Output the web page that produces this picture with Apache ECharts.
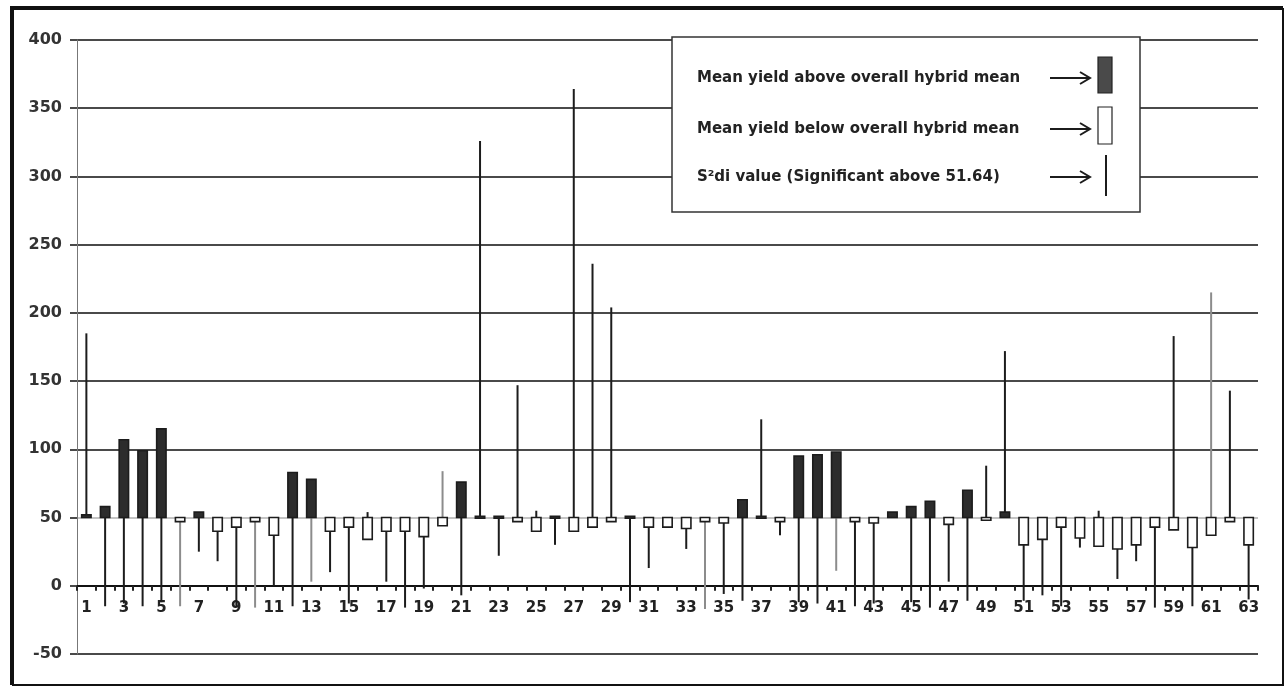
<!DOCTYPE html>
<html>
<head>
<meta charset="utf-8">
<script src="https://cdn.jsdelivr.net/npm/echarts@6/dist/echarts.min.js"></script>
<style>
  html, body { margin: 0; padding: 0; background: #fff; }
  #chart { width: 1285px; height: 687px; }
</style>
</head>
<body>
<div id="chart"></div>
<script>
// Hybrid numbers along the x axis
const hybrids = ['1','2','3','4','5','6','7','8','9','10','11','12','13','14','15','16','17','18','19','20',
  '21','22','23','24','25','26','27','28','29','30','31','32','33','34','35','36','37','38','39','40',
  '41','42','43','44','45','46','47','48','49','50','51','52','53','54','55','56','57','58','59','60',
  '61','62','63'];

// Mean yield of each hybrid
const meanYield = [52, 58, 107, 99, 115, 47, 54, 40, 43, 47, 37, 83, 78, 40, 43, 34, 40, 40, 36, 44,
  76, 51, 51, 47, 40, 51, 40, 43, 47, 51, 43, 43, 42, 47, 46, 63, 51, 47, 95, 96,
  98, 47, 46, 54, 58, 62, 45, 70, 48, 54, 30, 34, 43, 35, 29, 27, 30, 43, 41, 28,
  37, 47, 30];

// Deviation from regression (S²di) of each hybrid
const s2diValue = [185, -15, -13, -15, -12, -15, 25, 18, -15, -16, 0, -15, 3, 10, -13, 54, 3, -16, -2, 84,
  -7, 326, 22, 147, 55, 30, 364, 236, 204, -12, 13, 46, 27, -17, -6, -11, 122, 37, -12, -13,
  11, -15, -13, 52, -12, -16, 3, -11, 88, 172, -11, -7, -15, 28, 55, 5, 18, -16, 183, -15,
  215, 143, -10];

// Overall hybrid mean: the level the yield boxes start from
const hybridMean = 50;

// Value axis range and step
const yMin = -50, yMax = 400, yStep = 50;

// Hybrids whose S²di stem is printed in a lighter grey
const lightStems = [6, 10, 13, 20, 34, 41, 61];

const FONT = 'DejaVu Sans';
const INK = '#222';

const GRID = { left: 77, right: 27, top: 40, bottom: 33 };
const PLOT_H = 687 - GRID.top - GRID.bottom;
// distance from the plot bottom up to the zero line, so the hybrid numbers sit under it
const zeroLift = PLOT_H * (0 - yMin) / (yMax - yMin);

const chart = echarts.init(document.getElementById('chart'), null, { renderer: 'canvas' });

function renderStockMark(params, api) {
  const idx = api.value(0);
  const yld = api.value(1);
  const s2 = api.value(2);
  const lo = Math.min(hybridMean, yld, s2);
  const hi = Math.max(hybridMean, yld, s2);
  const pLo = api.coord([idx, lo]);
  const pHi = api.coord([idx, hi]);
  const pMean = api.coord([idx, hybridMean]);
  const pYld = api.coord([idx, yld]);
  const w = api.size([1, 0])[0] * 0.5;
  const above = yld >= hybridMean;
  const stem = lightStems.indexOf(idx + 1) >= 0 ? '#8c8c8c' : '#1c1c1c';
  const top = Math.min(pMean[1], pYld[1]);
  const h = Math.max(Math.abs(pMean[1] - pYld[1]), 2);
  return {
    type: 'group',
    children: [
      {
        type: 'line',
        shape: { x1: pLo[0], y1: pLo[1], x2: pHi[0], y2: pHi[1] },
        style: { stroke: stem, lineWidth: 2 }
      },
      {
        type: 'rect',
        shape: { x: pMean[0] - w / 2, y: top, width: w, height: h },
        style: { fill: above ? '#2c2c2c' : '#ffffff', stroke: '#1c1c1c', lineWidth: 1.6 }
      }
    ]
  };
}

const gridColors = [];
for (let v = yMin; v <= yMax; v += yStep) {
  gridColors.push(v === hybridMean ? '#c4c4c4' : '#4a4a4a');
}

// Legend panel
const LZ = 60;
function arrow(y) {
  return [
    { type: 'line', z: LZ, shape: { x1: 1050, y1: y, x2: 1089, y2: y },
      style: { stroke: '#1c1c1c', lineWidth: 2 } },
    { type: 'polyline', z: LZ, shape: { points: [[1080, y - 6], [1090, y], [1080, y + 6]] },
      style: { stroke: '#1c1c1c', lineWidth: 2, fill: null } }
  ];
}
function legendText(txt, y) {
  return {
    type: 'text', z: LZ, x: 697, y: y,
    style: { text: txt, font: 'bold 15px "' + FONT + '"', fill: INK, verticalAlign: 'middle' }
  };
}

const graphics = [
  // outer frame
  { type: 'polyline', z: 100, shape: { points: [[12, 685], [12, 8], [1283, 8]] },
    style: { stroke: '#111', lineWidth: 4, fill: null } },
  { type: 'polyline', z: 100, shape: { points: [[1283, 8], [1283, 685], [12, 685]] },
    style: { stroke: '#111', lineWidth: 2, fill: null } },
  // legend box
  { type: 'rect', z: 50, shape: { x: 672, y: 37, width: 468, height: 175 },
    style: { fill: '#fff', stroke: '#333', lineWidth: 1.5 } },
  legendText('Mean yield above overall hybrid mean', 78),
  legendText('Mean yield below overall hybrid mean', 129),
  legendText('S²di value (Significant above 51.64)', 177),
  ...arrow(78), ...arrow(129), ...arrow(177),
  { type: 'rect', z: LZ, shape: { x: 1098, y: 57, width: 14, height: 36 },
    style: { fill: '#4a4a4a', stroke: '#222', lineWidth: 1.2 } },
  { type: 'rect', z: LZ, shape: { x: 1098, y: 107, width: 14, height: 37 },
    style: { fill: '#fff', stroke: '#222', lineWidth: 1.2 } },
  { type: 'line', z: LZ, shape: { x1: 1106, y1: 155, x2: 1106, y2: 196 },
    style: { stroke: '#1c1c1c', lineWidth: 2 } }
];

chart.setOption({
  animation: false,
  backgroundColor: '#fff',
  grid: Object.assign({ containLabel: false }, GRID),
  xAxis: [
    {
      type: 'category',
      data: hybrids,
      boundaryGap: true,
      axisLine: { onZero: true, lineStyle: { color: '#111', width: 2 } },
      axisTick: { show: true, interval: 0, length: 5, lineStyle: { color: '#222', width: 2 } },
      axisLabel: { show: false },
      splitLine: { show: false }
    },
    {
      // carries the hybrid numbers directly under the zero line
      type: 'category',
      data: hybrids,
      boundaryGap: true,
      position: 'bottom',
      offset: -zeroLift,
      axisLine: { show: false, onZero: false },
      axisTick: { show: false },
      axisLabel: {
        interval: 1, margin: 15,
        fontFamily: FONT, fontWeight: 'bold', fontSize: 15, color: INK
      },
      splitLine: { show: false }
    }
  ],
  yAxis: {
    type: 'value',
    min: yMin, max: yMax, interval: yStep,
    axisLine: { show: true, lineStyle: { color: '#777', width: 1 } },
    axisTick: { show: true, length: 7, lineStyle: { color: '#4a4a4a', width: 2 } },
    axisLabel: {
      margin: 15, fontFamily: FONT, fontWeight: 'bold', fontSize: 16, color: '#333'
    },
    splitLine: { show: true, lineStyle: { color: gridColors, width: 2 } }
  },
  series: [{
    type: 'custom',
    name: 'Mean yield and S²di',
    xAxisIndex: 0,
    renderItem: renderStockMark,
    encode: { x: 0, y: [1, 2] },
    data: hybrids.map((h, i) => [i, meanYield[i], s2diValue[i]]),
    z: 10
  }],
  graphic: graphics
});
</script>
</body>
</html>
